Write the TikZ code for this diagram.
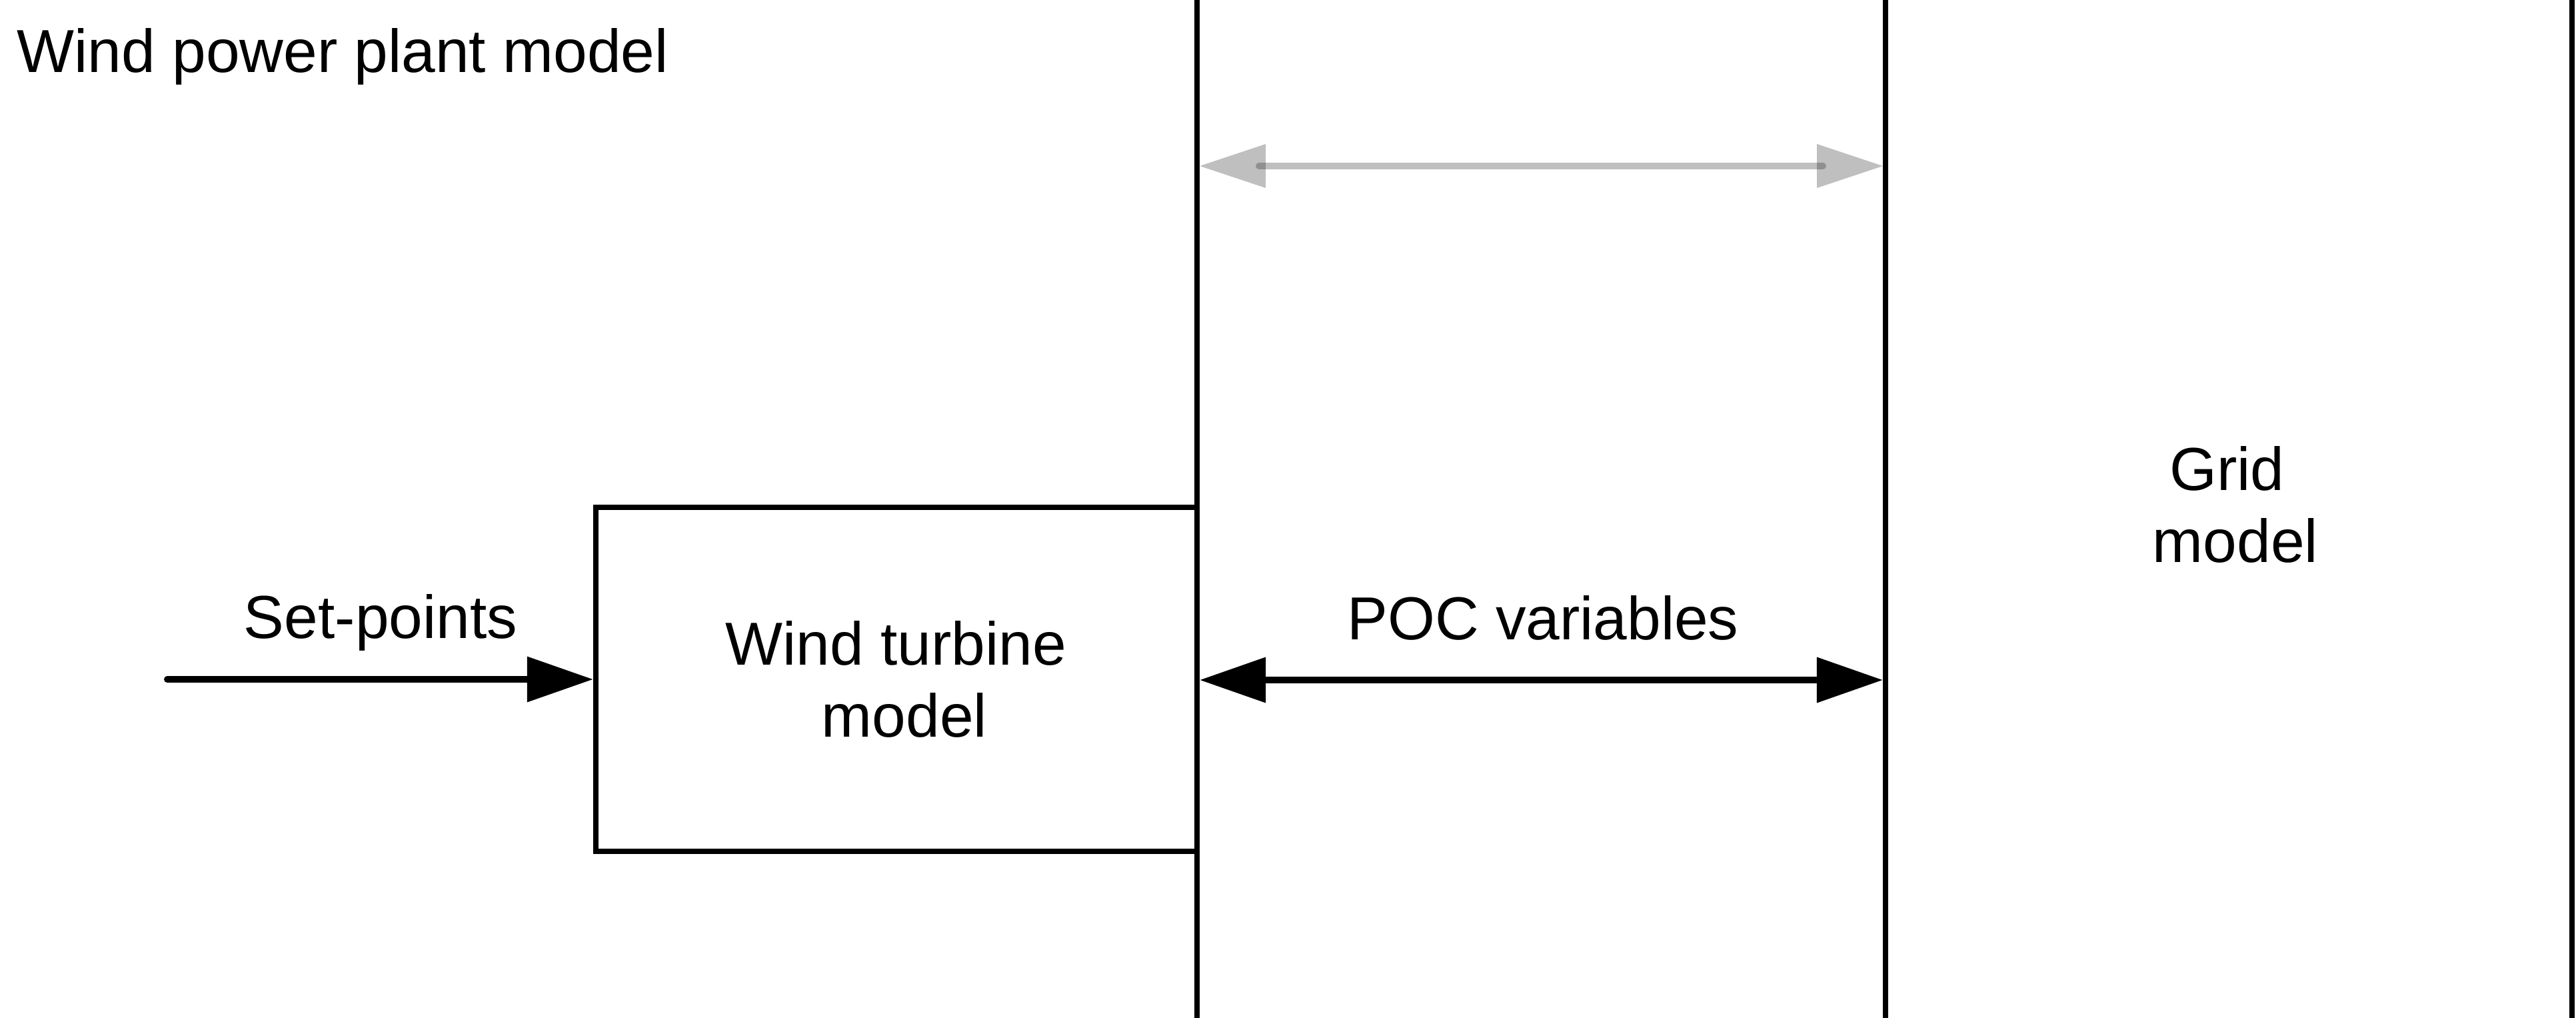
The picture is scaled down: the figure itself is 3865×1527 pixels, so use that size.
\documentclass[tikz,border=0pt]{standalone}
\usepackage{fontspec}
\setmainfont{Liberation Sans}
\usetikzlibrary{arrows.meta}
\begin{document}
\begin{tikzpicture}[x=0.01cm,y=-0.01cm,
  every node/.style={font=\fontsize{25.9pt}{30.7pt}\selectfont, inner sep=0pt},
  divider/.style={line width=0.08cm},
  block/.style={draw, line width=0.077cm, align=center,
                minimum width=9.02cm, minimum height=5.16cm},
  flow/.style={line width=0.1cm, line cap=round, -{Triangle[length=0.99cm,width=0.66cm]}},
  exchange/.style={line width=0.1cm,
    {Triangle[length=0.99cm,width=0.66cm]}-{Triangle[length=0.99cm,width=0.66cm]}},
  faintline/.style={line width=0.1cm, line cap=round, opacity=0.25},
  fainthead/.style={fill=black!25}]
\useasboundingbox (0,0) rectangle (3865,1527);

% vertical boundaries: plant | interface | grid
\coordinate (d1t) at (1796,0);    \coordinate (d1b) at (1796,1527);
\coordinate (d2t) at (2829,0);    \coordinate (d2b) at (2829,1527);
\coordinate (d3t) at (3859,0);    \coordinate (d3b) at (3859,1527);
\draw[divider] (d1t) -- (d1b);
\draw[divider] (d2t) -- (d2b);
\draw[divider] (d3t) -- (d3b);

% labels
\node[anchor=base west] (plant) at (25,108) {Wind power plant model};
\node[anchor=base] (setp) at (571,957) {Set-points};
\node[anchor=base] (poc) at (2315,959) {POC variables};
\node[align=center, anchor=base] (grid) at (3354,843) {Grid\kern0.278em\\model};

% turbine block
\node[block] (wtm) at (1345,1019)
  {\kern0.24cm Wind turbine\kern0.278em\\\kern0.24cm model};

% connectors
\coordinate (spin) at (251,1019);
\draw[flow] (spin) -- (wtm.west);

\coordinate (pocL) at (1800,1020);
\coordinate (pocR) at (2825,1020);
\draw[exchange] (pocL) -- (pocR);

% light double arrow: solid heads, translucent shaft
\coordinate (topL) at (1800,249);
\coordinate (topR) at (2825,249);
\fill[fainthead] (topL) -- ([shift={(99,-33)}]topL) -- ([shift={(99,33)}]topL) -- cycle;
\fill[fainthead] (topR) -- ([shift={(-99,-33)}]topR) -- ([shift={(-99,33)}]topR) -- cycle;
\draw[faintline] ([shift={(89,0)}]topL) -- ([shift={(-90,0)}]topR);
\end{tikzpicture}
\end{document}
